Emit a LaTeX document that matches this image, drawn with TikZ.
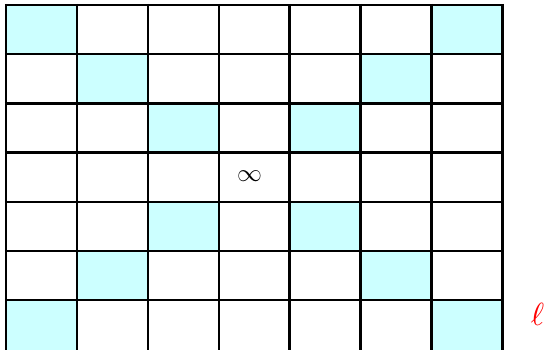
\documentclass[tikz,border=0pt]{standalone}
\definecolor{cellcyan}{HTML}{CCFFFF}
\begin{document}
\begin{tikzpicture}[x=1pt,y=-1pt,
  gridline/.style={line width=2.4pt,black},
  hicell/.style={fill=cellcyan}]
\useasboundingbox (0,0) rectangle (550,349);
\def\cw{70.9}\def\rh{49.2}\def\ty{5}
\foreach \c/\r in {0/0,6/0,1/1,5/1,2/2,4/2,2/4,4/4,1/5,5/5}{
  \fill[hicell] ({6+\c*\cw},{\ty+\r*\rh}) rectangle ({6+(\c+1)*\cw},{\ty+(\r+1)*\rh});
}
\foreach \c in {0,6}{
  \fill[hicell] ({6+\c*\cw},{\ty+6*\rh}) rectangle ({6+(\c+1)*\cw},355);
}
\foreach \c in {0,...,7}{
  \draw[gridline] ({6+\c*\cw},{\ty-1.2}) -- ({6+\c*\cw},{355});
}
\foreach \r in {0,...,6}{
  \draw[gridline] ({6-1.2},{\ty+\r*\rh}) -- ({6+7*\cw+1.2},{\ty+\r*\rh});
}
\node (inf) at (249.5,176) {\fontsize{24}{24}\selectfont$\infty$};
\node[text=red] (ell) at (537.5,314) {\scalebox{3.2}{$\ell$}};
\end{tikzpicture}
\end{document}
